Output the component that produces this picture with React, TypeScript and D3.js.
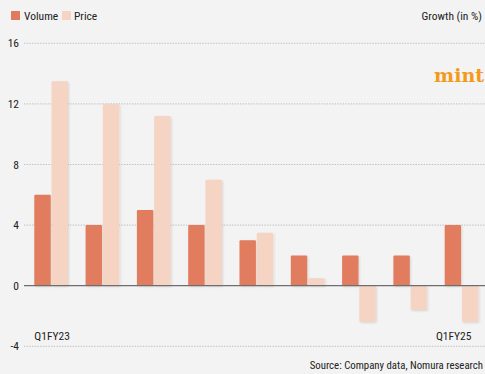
import React from "react";
import * as d3 from "d3";

const categories = ["Q1FY23", "Q2FY23", "Q3FY23", "Q4FY23", "Q1FY24", "Q2FY24", "Q3FY24", "Q4FY24", "Q1FY25"];
const volume = [6, 4, 5, 4, 3, 2, 2, 2, 4];
const price = [13.5, 12, 11.2, 7, 3.5, 0.5, -2.4, -1.6, -2.4];
const yTicks = [-4, 0, 4, 8, 12, 16];
const seriesNames = ["Volume", "Price"];
const seriesColors = ["#e27b5e", "#f5d4c4"];
const shownLabels = ["Q1FY23", "Q1FY25"];

const W = 485;
const H = 374;
const FONT = "'Liberation Sans Narrow', 'Roboto Condensed', 'Arial Narrow', sans-serif";

export default function App() {
  const y = d3.scaleLinear().domain([-4, 16]).range([346.3, 43.3]);
  const x = d3.scaleBand<string>().domain(categories).range([34.3, 478.4]).paddingInner(0.343).paddingOuter(0);
  const sub = d3.scaleBand<string>().domain(seriesNames).range([0, x.bandwidth()]).paddingInner(0.05);
  const series = [volume, price];

  return (
    <svg width={W} height={H} style={{ position: "absolute", left: 0, top: 0, background: "#f3f3f3" }} fontFamily={FONT}>
      <defs>
        <filter id="sh" x="-30%" y="-10%" width="160%" height="130%">
          <feDropShadow dx="1" dy="1" stdDeviation="1" floodColor="#000" floodOpacity="0.12" />
        </filter>
      </defs>
      <rect x={0} y={0} width={W} height={H} fill="#f3f3f3" />
      {/* legend */}
      <rect x={11} y={11} width={9} height={9} fill={seriesColors[0]} />
      <text x={24} y={19.5} fontSize={11.5} fill="#222">Volume</text>
      <rect x={62} y={11} width={9} height={9} fill={seriesColors[1]} />
      <text x={74} y={19.5} fontSize={11.5} fill="#222">Price</text>
      <text x={482} y={20} fontSize={11.5} fill="#222" textAnchor="end">Growth (in %)</text>

      {/* grid */}
      {yTicks.map((t) => (
        <g key={t}>
          {t !== 0 && (
            <line x1={24} x2={485} y1={y(t)} y2={y(t)} stroke="#b5b5b5" strokeWidth={0.8} strokeDasharray="1.5,1.2" />
          )}
          <text x={19} y={y(t) + 4} fontSize={11.5} fill="#222" textAnchor="end">{t}</text>
        </g>
      ))}

      {/* bars */}
      {categories.map((c, i) => (
        <g key={c} transform={`translate(${x(c)},0)`}>
          {series.map((s, j) => {
            const v = s[i];
            const y0 = y(Math.max(0, v));
            const h = Math.abs(y(v) - y(0));
            return (
              <rect
                key={j}
                x={sub(seriesNames[j])}
                y={y0}
                width={sub.bandwidth()}
                height={h}
                rx={1}
                fill={seriesColors[j]}
                filter="url(#sh)"
              />
            );
          })}
        </g>
      ))}

      <line x1={24} x2={485} y1={y(0)} y2={y(0)} stroke="#6e6e6e" strokeWidth={1.3} />

      {/* category labels */}
      <text x={x(shownLabels[0])} y={340} fontSize={11.5} fill="#222">{shownLabels[0]}</text>
      <text x={(x(shownLabels[1]) as number) + x.bandwidth() - 7} y={340} fontSize={11.5} fill="#222" textAnchor="end">{shownLabels[1]}</text>

      {/* mint logo */}
      <text x={484} y={82} fontSize={19} fontWeight="bold" fill="#f39a1c" textAnchor="end" fontFamily="'DejaVu Serif', 'Liberation Serif', serif">mint</text>

      <text x={483} y={369} fontSize={10.8} fill="#222" textAnchor="end">Source: Company data, Nomura research</text>
    </svg>
  );
}
